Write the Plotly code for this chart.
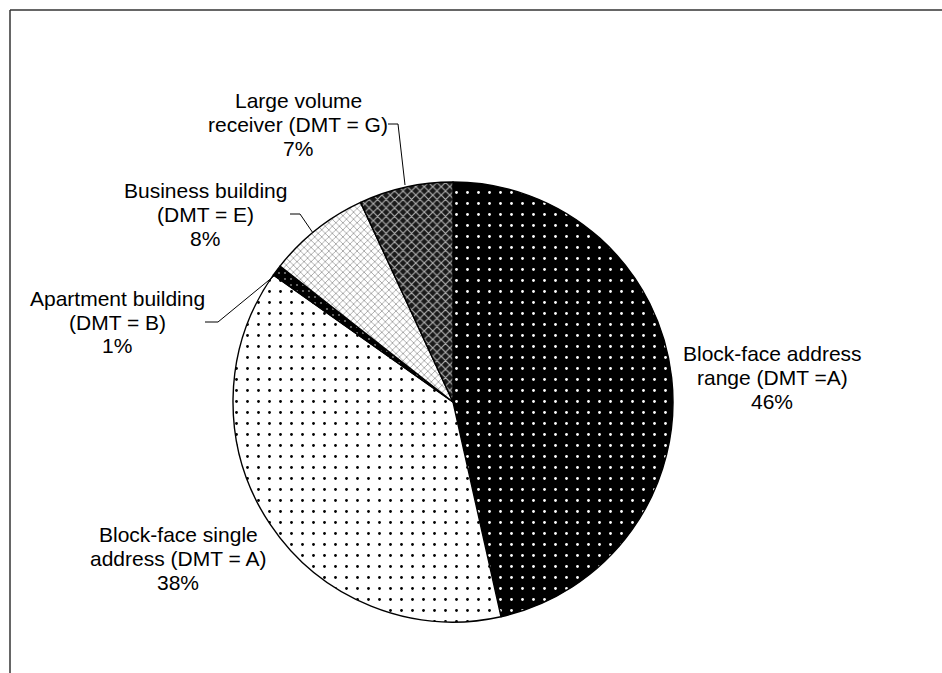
import plotly.graph_objects as go

# ---- data ----
categories = [
    "Block-face address range (DMT =A)",
    "Block-face single address (DMT = A)",
    "Apartment building (DMT = B)",
    "Business building (DMT = E)",
    "Large volume receiver (DMT = G)",
]
shares = [46.5, 38.3, 0.8, 7.5, 6.9]
pct_labels = ["46%", "38%", "1%", "8%", "7%"]  # printed percentages
label_lines = [
    ["Block-face address", "range (DMT =A)"],
    ["Block-face single", "address (DMT = A)"],
    ["Apartment building", "(DMT = B)"],
    ["Business building", "(DMT = E)"],
    ["Large volume", "receiver (DMT = G)"],
]

W, H = 942, 673
FONT = "Liberation Sans, Arial, sans-serif"
FS = 21
LINE_GAP = 24

patterns = [
    dict(shape=".", bgcolor="black", fgcolor="white", size=11, solidity=0.05),
    dict(shape=".", bgcolor="white", fgcolor="black", size=11, solidity=0.05),
    dict(shape=".", bgcolor="black", fgcolor="#777777", size=6, solidity=0.1),
    dict(shape="x", bgcolor="white", fgcolor="#777777", size=5, solidity=0.22),
    dict(shape="x", bgcolor="#1a1a1a", fgcolor="#b0b0b0", size=6, solidity=0.35),
]


def px(x):
    return x / W


def py(y):
    return 1 - y / H


cx, cy, r = 453, 402, 220  # screen pixels

fig = go.Figure(go.Pie(
    labels=categories,
    values=shares,
    sort=False,
    direction="clockwise",
    rotation=0,
    textinfo="none",
    hoverinfo="label+percent",
    showlegend=False,
    marker=dict(
        colors=[p["bgcolor"] for p in patterns],
        line=dict(color="black", width=1.4),
        pattern=dict(
            shape=[p["shape"] for p in patterns],
            bgcolor=[p["bgcolor"] for p in patterns],
            fgcolor=[p["fgcolor"] for p in patterns],
            size=[p["size"] for p in patterns],
            solidity=[p["solidity"] for p in patterns],
            fillmode="replace",
        ),
    ),
    domain=dict(x=[px(cx - r), px(cx + r)],
                y=[py(cy + r), py(cy - r)]),
))

# label placement: centre x and y of first line (screen pixels)
label_pos = [(772, 353), (178, 534), (117, 298), (205, 190), (298, 100)]
for lines, pct, (lx, ly) in zip(label_lines, pct_labels, label_pos):
    for i, t in enumerate(lines + [pct]):
        fig.add_annotation(
            x=px(lx), y=py(ly + i * LINE_GAP), xref="paper", yref="paper",
            text=t, showarrow=False, xanchor="center", yanchor="middle",
            font=dict(family=FONT, size=FS, color="black"),
        )

# leader lines
leaders = [
    [(205, 322), (218, 322), (274, 276)],
    [(290, 214), (300, 214), (313, 233)],
    [(388, 124), (398, 124), (405, 185)],
]
for pts in leaders:
    path = "M " + " L ".join(f"{px(x)} {py(y)}" for x, y in pts)
    fig.add_shape(type="path", path=path, xref="paper", yref="paper",
                  line=dict(color="black", width=1))

# outer frame (top and left edges visible)
fig.add_shape(type="line", xref="paper", yref="paper",
              x0=px(10), y0=py(10), x1=1.0, y1=py(10),
              line=dict(color="#333333", width=1.5))
fig.add_shape(type="line", xref="paper", yref="paper",
              x0=px(10), y0=py(10), x1=px(10), y1=0.0,
              line=dict(color="#333333", width=1.5))

fig.update_layout(
    width=W, height=H,
    margin=dict(l=0, r=0, t=0, b=0),
    paper_bgcolor="white", plot_bgcolor="white",
    font=dict(family=FONT, size=FS, color="black"),
)

fig.write_html(
    "out.html",
    config={"displayModeBar": False},
    post_script="document.body.style.margin='0';"
                "document.body.style.overflow='hidden';"
                "document.documentElement.style.overflow='hidden';",
)
